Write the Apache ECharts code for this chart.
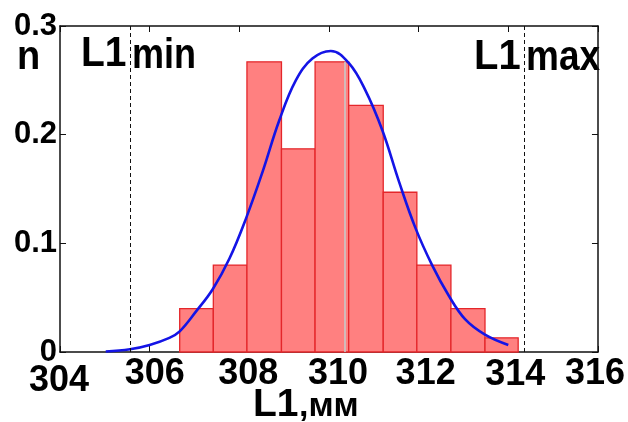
<!DOCTYPE html>
<html>
<head>
<meta charset="utf-8">
<script src="https://cdn.jsdelivr.net/npm/echarts@6/dist/echarts.min.js"></script>
<style>
html,body{margin:0;padding:0;background:#fff;}
#chart{width:628px;height:422px;}
</style>
</head>
<body>
<div id="chart"></div>
<script>
// ---- data ----
const binEdges = [306.67, 307.42, 308.17, 308.94, 309.69, 310.44, 311.21, 311.96, 312.72, 313.48, 314.22];
const binHeights = [0.040, 0.080, 0.267, 0.187, 0.267, 0.227, 0.147, 0.080, 0.040, 0.013];
const curveX = [305.02, 305.56, 306.0, 306.44, 306.67, 307.04, 307.41, 307.78, 308.15, 308.52, 308.89, 309.26, 309.63, 310.04, 310.44, 310.81, 311.19, 311.56, 311.93, 312.30, 312.67, 313.04, 313.48, 314.0];
const curveY = [0.0005, 0.0025, 0.0065, 0.013, 0.019, 0.0376, 0.058, 0.086, 0.123, 0.166, 0.213, 0.250, 0.270, 0.277, 0.266, 0.241, 0.204, 0.157, 0.114, 0.080, 0.052, 0.030, 0.016, 0.0065];
const limitLines = [305.57, 314.36];   // L1min, L1max
const meanLineX = 310.36;
const meanLineTop = 0.267;
const xTicks = [304, 306, 308, 310, 312, 314, 316];
const yTicks = [0, 0.1, 0.2, 0.3];

// label nudges (layout only)
const xLabelShift = {304: [-1, 7], 306: [5, 0], 308: [9, 0], 310: [9, 0], 312: [7, 0], 314: [7, 1], 316: [-3, 0]};

const histData = binHeights.map((h, i) => [binEdges[i], binEdges[i + 1], h]);
const curveData = curveX.map((x, i) => [x, curveY[i]]);

const rich = {};
xTicks.forEach(v => {
  const s = xLabelShift[v] || [0, 0];
  const dx = s[0], dy = s[1];
  rich['t' + v] = {
    fontFamily: 'Liberation Sans', fontWeight: 'bold', fontSize: 36, color: '#000',
    padding: [dy, dx < 0 ? -2 * dx : 0, 0, dx > 0 ? 2 * dx : 0]
  };
});

function txt(t, x, y, size, sy, align) {
  return {type: 'text', x: x, y: y, scaleY: sy, style: {
    text: t, font: 'bold ' + size + 'px "Liberation Sans"', fill: '#000',
    align: align || 'left', verticalAlign: 'middle'}};
}

const chart = echarts.init(document.getElementById('chart'));
const axisLineStyle = {color: '#111', width: 1.5};
const option = {
  animation: false,
  backgroundColor: '#fff',
  grid: {left: 60, right: 26, top: 26, bottom: 70, containLabel: false},
  xAxis: [{
    type: 'value', min: xTicks[0], max: xTicks[xTicks.length - 1], interval: 2,
    position: 'bottom',
    axisLine: {show: true, onZero: false, lineStyle: axisLineStyle},
    axisTick: {show: true, inside: true, length: 6, lineStyle: {color: '#111', width: 1}},
    splitLine: {show: false},
    axisLabel: {
      margin: 4,
      formatter: v => '{t' + v + '|' + v + '}',
      rich: rich
    }
  }, {
    type: 'value', min: xTicks[0], max: xTicks[xTicks.length - 1], interval: 2,
    position: 'top',
    axisLine: {show: true, onZero: false, lineStyle: axisLineStyle},
    axisTick: {show: true, inside: true, length: 6, lineStyle: {color: '#111', width: 1}},
    splitLine: {show: false},
    axisLabel: {show: false}
  }],
  yAxis: [{
    type: 'value', min: 0, max: 0.3, interval: 0.1,
    position: 'left',
    axisLine: {show: true, onZero: false, lineStyle: axisLineStyle},
    axisTick: {show: true, inside: true, length: 6, lineStyle: {color: '#111', width: 1}},
    splitLine: {show: false},
    axisLabel: {
      margin: 3,
      fontFamily: 'Liberation Sans', fontWeight: 'bold', fontSize: 31, color: '#000',
      formatter: v => (v === 0 ? '0' : v.toFixed(1))
    }
  }, {
    type: 'value', min: 0, max: 0.3, interval: 0.1,
    position: 'right',
    axisLine: {show: true, onZero: false, lineStyle: axisLineStyle},
    axisTick: {show: true, inside: true, length: 6, lineStyle: {color: '#111', width: 1}},
    splitLine: {show: false},
    axisLabel: {show: false}
  }],
  series: [{
    type: 'custom',
    z: 2,
    data: histData,
    encode: {x: [0, 1], y: 2},
    renderItem: function (params, api) {
      const p0 = api.coord([api.value(0), api.value(2)]);
      const p1 = api.coord([api.value(1), 0]);
      return {
        type: 'rect',
        shape: {x: p0[0], y: p0[1], width: p1[0] - p0[0], height: p1[1] - p0[1]},
        style: {fill: '#ff8080', stroke: '#e4262a', lineWidth: 1.3}
      };
    }
  }, {
    type: 'line',
    z: 4,
    data: curveData,
    smooth: 0.4,
    showSymbol: false,
    symbol: 'none',
    lineStyle: {color: '#1414e6', width: 2.6},
    markLine: {
      silent: true,
      symbol: ['none', 'none'],
      label: {show: false},
      data: [
        {xAxis: limitLines[0], lineStyle: {color: '#111', type: [4, 3], width: 1}},
        {xAxis: limitLines[1], lineStyle: {color: '#111', type: [4, 3], width: 1}},
        [{coord: [meanLineX, 0], lineStyle: {color: '#c8c8c8', type: 'solid', width: 1.6}},
         {coord: [meanLineX, meanLineTop]}]
      ]
    }
  }],
  graphic: [
    txt('n', 28.5, 58, 38, 1.07, 'center'),
    txt('L1', 81, 54.5, 39, 1.08),
    txt('min', 132, 56, 36, 1.18),
    txt('L1', 474, 57, 40, 1.06),
    txt('max', 526, 58, 37, 1.15),
    txt('L1', 253, 405.5, 39, 1.0),
    txt(',мм', 299, 407, 34, 1.0)
  ]
};
chart.setOption(option);
</script>
</body>
</html>
